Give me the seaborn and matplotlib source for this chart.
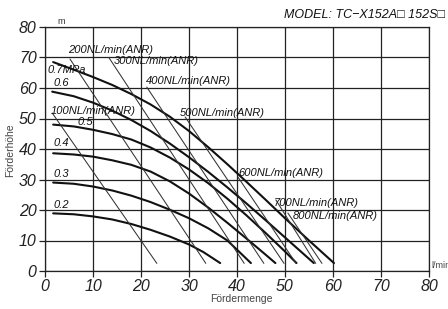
import matplotlib
matplotlib.use("Agg")
import matplotlib.pyplot as plt
import seaborn as sns
import pandas as pd

sns.set_theme(style="white")
plt.rcParams['font.family'] = ['Liberation Sans', 'DejaVu Sans']

# Pressure curves (MPa): flow x (l/min), head y (m)
pressure_labels = ["0.7MPa", "0.6", "0.5", "0.4", "0.3", "0.2"]
p07_x = [1.7, 6, 10, 14, 18, 22, 26, 30, 34, 38, 42, 46, 50, 55, 60.2]
p07_y = [68.5, 66.0, 63.6, 61.0, 58.0, 54.6, 50.6, 45.9, 40.6, 35.0, 29.2, 23.3, 17.3, 10.0, 2.6]
p06_x = [1.5, 6, 10, 14, 18, 22, 26, 30, 34, 38, 42, 46, 50, 53, 56]
p06_y = [58.8, 57.3, 55.2, 52.6, 49.5, 45.9, 41.8, 37.3, 32.5, 27.4, 22.1, 16.6, 11.0, 6.8, 2.6]
p05_x = [1.7, 6, 10, 14, 18, 22, 26, 30, 34, 38, 42, 46, 50, 52.4]
p05_y = [48.0, 47.4, 46.3, 44.9, 43.1, 40.5, 37.2, 33.3, 28.8, 23.7, 18.2, 12.4, 6.4, 2.6]
p04_x = [1.7, 6, 10, 14, 18, 22, 26, 30, 34, 38, 42, 46, 48]
p04_y = [38.6, 38.2, 37.5, 36.3, 34.8, 32.6, 29.4, 25.4, 20.8, 15.8, 10.6, 5.3, 2.6]
p03_x = [1.7, 6, 10, 14, 18, 22, 26, 30, 34, 38, 42.9]
p03_y = [29.0, 28.6, 27.7, 26.4, 24.7, 22.6, 20.1, 17.3, 14.0, 10.0, 2.6]
p02_x = [1.7, 6, 10, 14, 18, 22, 26, 30, 33, 36.5]
p02_y = [18.9, 18.6, 17.9, 16.9, 15.4, 13.5, 11.3, 8.7, 6.2, 2.6]

# Air-consumption lines (NL/min(ANR)): start and end points
flow_labels = ["100NL/min(ANR)", "200NL/min(ANR)", "300NL/min(ANR)", "400NL/min(ANR)",
               "500NL/min(ANR)", "600NL/min(ANR)", "700NL/min(ANR)", "800NL/min(ANR)"]
flow_x0 = [1.5, 5.2, 13.3, 21.2, 29.2, 40.2, 48.1, 50.6]
flow_y0 = [51.8, 69.5, 70.0, 60.3, 50.5, 30.8, 23.3, 19.0]
flow_x1 = [23.3, 33.5, 41.5, 45.6, 49.8, 52.3, 56.4, 57.7]
flow_y1 = [2.5, 2.5, 2.5, 2.5, 2.5, 2.5, 2.5, 2.5]

x_ticks = [0, 10, 20, 30, 40, 50, 60, 70, 80]
y_ticks = [0, 10, 20, 30, 40, 50, 60, 70, 80]

fig = plt.figure(figsize=(4.48, 3.09), dpi=100)
ax = fig.add_axes([45/448, 1-271/309, (429-45)/448, (271-27)/309])

press = [(p07_x, p07_y), (p06_x, p06_y), (p05_x, p05_y), (p04_x, p04_y), (p03_x, p03_y), (p02_x, p02_y)]
for lab, (xs, ys) in zip(pressure_labels, press):
    df = pd.DataFrame({"x": xs, "y": ys})
    sns.lineplot(data=df, x="x", y="y", ax=ax, color="#111111", lw=1.5, sort=False, estimator=None)

for i, lab in enumerate(flow_labels):
    df = pd.DataFrame({"x": [flow_x0[i], flow_x1[i]], "y": [flow_y0[i], flow_y1[i]]})
    sns.lineplot(data=df, x="x", y="y", ax=ax, color="#333333", lw=0.75, sort=False, estimator=None)

ax.set_xlim(0, 80)
ax.set_ylim(0, 80)
ax.set_xticks(x_ticks)
ax.set_yticks(y_ticks)
ax.grid(True, color="#222222", lw=0.9)
for s in ax.spines.values():
    s.set_color("#222222")
    s.set_linewidth(0.9)
ax.tick_params(axis="both", length=4, width=0.9, color="#222222", labelsize=11.5,
               labelcolor="#222222", pad=2, direction="out", left=True, bottom=True)
for t in ax.get_xticklabels() + ax.get_yticklabels():
    t.set_fontstyle("italic")
ax.set_xlabel("")
ax.set_ylabel("")

lab_kw = dict(fontsize=8, fontstyle="italic", color="#111111", va="center", ha="left")
# pressure labels
ax.text(0.6, 65.9, "0.7MPa", **lab_kw)
ax.text(1.7, 61.6, "0.6", **lab_kw)
ax.text(6.7, 48.9, "0.5", **lab_kw)
ax.text(1.7, 42.0, "0.4", **lab_kw)
ax.text(1.7, 31.8, "0.3", **lab_kw)
ax.text(1.7, 21.6, "0.2", **lab_kw)
# flow labels
flow_text_pos = [(1.2, 52.5), (4.8, 72.3), (14.4, 68.9), (21.0, 62.3), (28.1, 51.8),
                 (40.2, 32.1), (47.7, 22.3), (51.7, 18.0)]
for lab, (tx, ty) in zip(flow_labels, flow_text_pos):
    ax.text(tx, ty, lab, **lab_kw)

fig.text(445/448, 1-15/309, "MODEL: TC\u2212X152A\u25a1 152S\u25a1", fontsize=9, fontstyle="italic",
         ha="right", va="center", color="#111111")
fig.text(57/448, 1-21/309, "m", fontsize=6.5, ha="left", va="center", color="#333333")
fig.text(431/448, 1-266/309, "l/min", fontsize=6.5, ha="left", va="center", color="#444444")
fig.text(241/448, 1-299/309, "F\u00f6rdermenge", fontsize=7.5, ha="center", va="center", color="#444444")
fig.text(10/448, 1-150/309, "F\u00f6rderh\u00f6he", fontsize=7.5, ha="center", va="center",
         rotation=90, color="#444444")

fig.savefig("out.png", dpi=100)
